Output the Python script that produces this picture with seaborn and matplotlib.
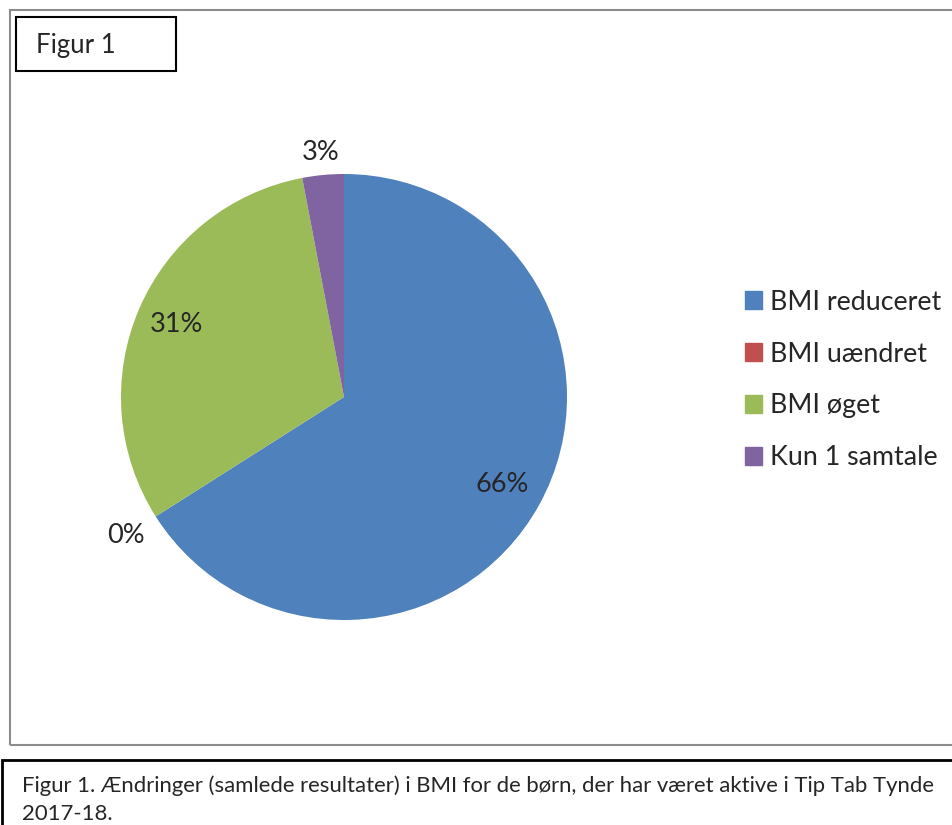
import numpy as np
import matplotlib
matplotlib.use("Agg")
import matplotlib.pyplot as plt
from matplotlib.patches import Rectangle
import seaborn as sns

# data
categories = ["BMI reduceret", "BMI uændret", "BMI øget", "Kun 1 samtale"]
shares = [66, 0, 31, 3]
pct_labels = ["66%", "0%", "31%", "3%"]
label_dist = [0.81, 1.16, 0.82, 1.10]

sns.set_style("white")
plt.rcParams["font.family"] = ["Lato", "DejaVu Sans"]
colors = sns.color_palette(["#4F81BD", "#C0504D", "#9BBB59", "#8064A2"])

W, H = 953, 825
fig = plt.figure(figsize=(W / 100, H / 100), dpi=100)

# outer chart frame (grey) and caption box (black)
fig.patches.append(Rectangle((10 / W, 1 - 745 / H), 1.1, 735 / H, transform=fig.transFigure,
                             fill=False, edgecolor="#8c8c8c", lw=1.5))
fig.patches.append(Rectangle((16 / W, 1 - 71 / H), 160 / W, 54 / H, transform=fig.transFigure,
                             fill=False, edgecolor="black", lw=1.5))
fig.text(36 / W, 1 - 46 / H, "Figur 1", fontsize=18.5, va="center", ha="left")
fig.patches.append(Rectangle((2 / W, -0.1), 1.1, 0.1 + 65 / H, transform=fig.transFigure,
                             fill=False, edgecolor="black", lw=2))
fig.text(22 / W, 1 - 786 / H, "Figur 1. Ændringer (samlede resultater) i BMI for de børn, der har været aktive i Tip Tab Tynde",
         fontsize=15.9, va="center", ha="left")
fig.text(22 / W, 1 - 814 / H, "2017-18.", fontsize=15.9, va="center", ha="left")

# pie
cx, cy, r = 344, 397, 223
ax = fig.add_axes([(cx - r) / W, (H - cy - r) / H, 2 * r / W, 2 * r / H])
wedges, _ = ax.pie(shares, colors=colors, startangle=90, counterclock=False,
                   wedgeprops=dict(linewidth=0))
ax.set_xlim(-1, 1)
ax.set_ylim(-1, 1)
for w, lab, d in zip(wedges, pct_labels, label_dist):
    ang = np.deg2rad((w.theta1 + w.theta2) / 2)
    ax.text(d * np.cos(ang), d * np.sin(ang), lab, ha="center", va="center", fontsize=19.5)

handles = [Rectangle((0, 0), 1, 1, color=c) for c in colors]
fig.legend(handles, categories, loc="center left", bbox_to_anchor=(745 / W, 1 - 380 / H),
           frameon=False, fontsize=19.3, handlelength=0.65, handleheight=0.65,
           handletextpad=0.3, labelspacing=1.0, borderaxespad=0, borderpad=0)

fig.savefig("out.png", dpi=100)
